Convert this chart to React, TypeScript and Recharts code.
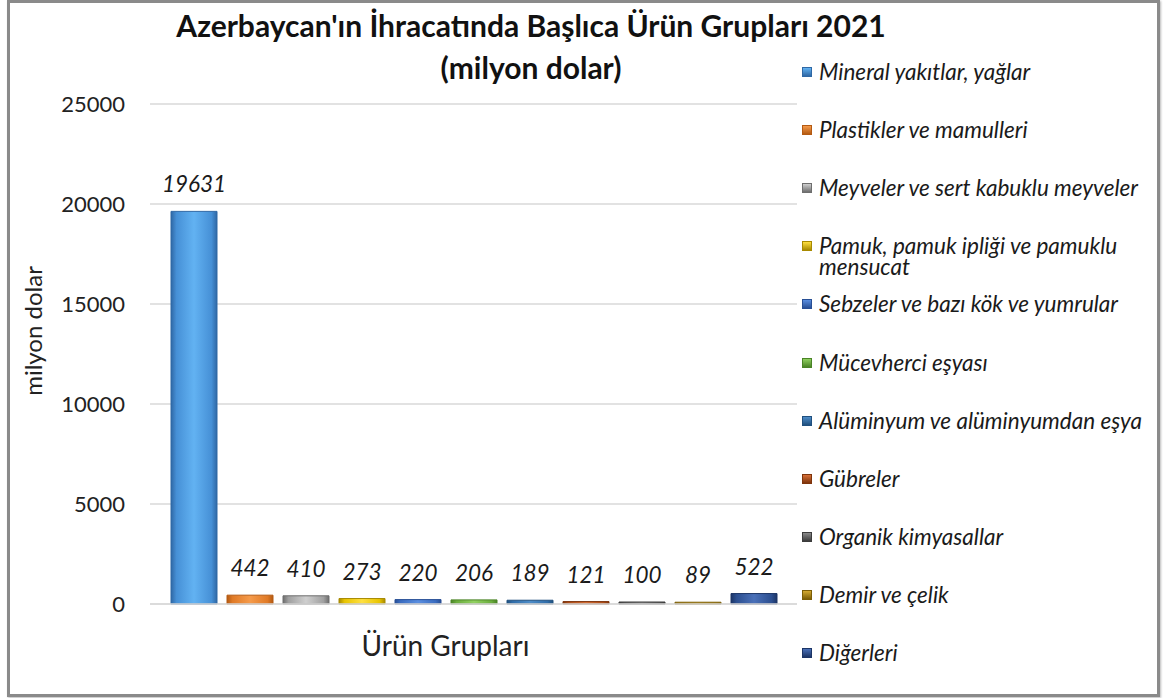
import React from 'react';
import { BarChart, Bar, XAxis, YAxis, CartesianGrid, LabelList } from 'recharts';

const categories = [
  'Mineral yakıtlar, yağlar',
  'Plastikler ve mamulleri',
  'Meyveler ve sert kabuklu meyveler',
  'Pamuk, pamuk ipliği ve pamuklu mensucat',
  'Sebzeler ve bazı kök ve yumrular',
  'Mücevherci eşyası',
  'Alüminyum ve alüminyumdan eşya',
  'Gübreler',
  'Organik kimyasallar',
  'Demir ve çelik',
  'Diğerleri',
];
const values = [19631, 442, 410, 273, 220, 206, 189, 121, 100, 89, 522];
const yTicks = [0, 5000, 10000, 15000, 20000, 25000];
const groupLabel = 'Ürün Grupları';
const titleLine1 = "Azerbaycan'ın İhracatında Başlıca Ürün Grupları 2021";
const titleLine2 = '(milyon dolar)';
const yAxisTitle = 'milyon dolar';

const colors = [
  ['#62b2f2', '#4690d6', '#2f68a5'],
  ['#f59a4a', '#e07a26', '#b45a12'],
  ['#cfcfcf', '#a0a0a0', '#6e6e6e'],
  ['#ffe040', '#e8c400', '#a88a00'],
  ['#5a8ee0', '#3a6cc0', '#284f95'],
  ['#90d060', '#6aac3c', '#4a8426'],
  ['#4d8cc8', '#2f6ca8', '#20507e'],
  ['#d87038', '#b04e18', '#7e340c'],
  ['#8a8a8a', '#5e5e5e', '#3c3c3c'],
  ['#d4aa30', '#ad860e', '#7c5e06'],
  ['#4a70b8', '#2c4f90', '#1c3566'],
];

const keys = categories.map((_, i) => `s${i}`);
const row: Record<string, any> = { name: groupLabel };
keys.forEach((k, i) => { row[k] = values[i]; });
const data = [row];

const FONT = 'Lato, "Open Sans", sans-serif';

const LegendBox = () => (
  <div style={{ position: 'absolute', left: 802, top: 58, width: 355, fontFamily: FONT }}>
    {categories.map((c, i) => (
      <div key={c} style={{ position: 'absolute', left: 0, top: i * 58.1, width: 355, display: 'flex', alignItems: 'flex-start' }}>
        <div style={{ width: 10, height: 10, marginTop: 9, marginRight: 7, flex: '0 0 auto', background: `linear-gradient(${colors[i][0]}, ${colors[i][2]})`, border: `1px solid ${colors[i][2]}`, boxSizing: 'border-box' }} />
        <div style={{ fontStyle: 'italic', fontSize: 22.5, lineHeight: '21px', color: '#1a1a1a', width: 338, paddingTop: 3 }}>{c}</div>
      </div>
    ))}
  </div>
);

export default function App() {
  return (
    <div style={{ position: 'absolute', left: 0, top: 0, width: 1163, height: 698, background: '#fff', overflow: 'hidden' }}>
      <div style={{ position: 'absolute', left: 7, top: 0, width: 1153, height: 697, border: '3px solid #8a8a8a', boxSizing: 'border-box', boxShadow: '1px 1px 2px #bbb' }} />
      <div style={{ position: 'absolute', left: 0, top: 4, width: 1062, textAlign: 'center', fontFamily: FONT, fontWeight: 700, fontSize: 30, lineHeight: '42px', color: '#111' }}>
        <div>{titleLine1}</div>
        <div>{titleLine2}</div>
      </div>
      <div style={{ position: 'absolute', left: 0, top: 0 }}>
        <BarChart width={1163} height={698} data={data} margin={{ top: 104, right: 366, bottom: 64, left: 90 }} barSize={46} barGap={10}>
          <defs>
            {colors.map((c, i) => (
              <linearGradient key={i} id={`g${i}`} x1="0" y1="0" x2="1" y2="0">
                <stop offset="0%" stopColor={c[2]} />
                <stop offset="12%" stopColor={c[1]} />
                <stop offset="50%" stopColor={c[0]} />
                <stop offset="88%" stopColor={c[1]} />
                <stop offset="100%" stopColor={c[2]} />
              </linearGradient>
            ))}
          </defs>
          <CartesianGrid vertical={false} stroke="#d9d9d9" strokeWidth={1.5} />
          <XAxis dataKey="name" height={30} axisLine={{ stroke: '#d9d9d9', strokeWidth: 1.5 }} tickLine={false}
            tick={({ x, y, payload }: any) => (
              <text x={x - 28} y={y + 44} textAnchor="middle" fontFamily={FONT} fontSize={28} fill="#222">{payload.value}</text>
            )} />
          <YAxis width={60} domain={[0, 25000]} ticks={yTicks} axisLine={false} tickLine={false} tickSize={0} tickMargin={25}
            tick={{ fontFamily: FONT, fontSize: 22, fill: '#222' }}
            label={() => (
              <text x={0} y={0} transform="translate(42, 331) rotate(-90)" textAnchor="middle" fontFamily={FONT} fontSize={24} fill="#222">{yAxisTitle}</text>
            )} />
          {keys.map((k, i) => (
            <Bar key={k} dataKey={k} name={categories[i]} fill={`url(#g${i})`} stroke={colors[i][2]} strokeWidth={1} isAnimationActive={false}>
              <LabelList dataKey={k} position="top" offset={19} style={{ fontFamily: FONT, fontStyle: 'italic', fontSize: 22.5, fill: '#1a1a1a' }} />
            </Bar>
          ))}
        </BarChart>
      </div>
      <LegendBox />
    </div>
  );
}
